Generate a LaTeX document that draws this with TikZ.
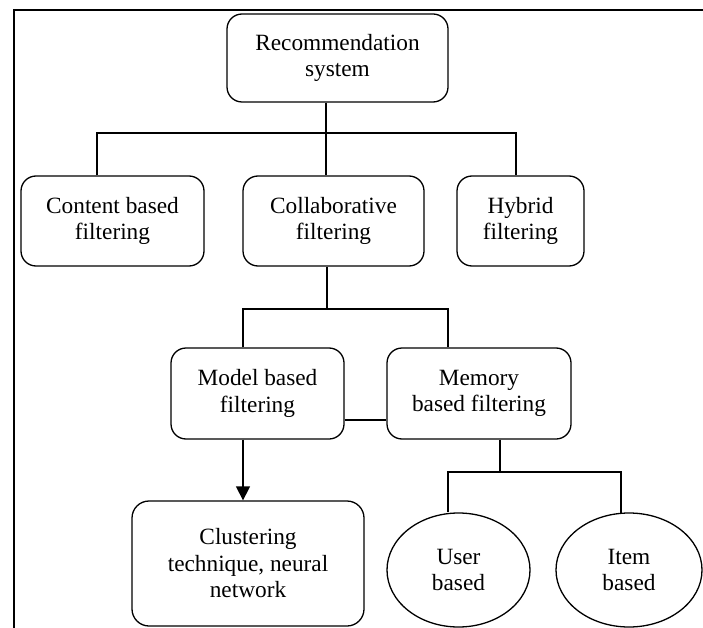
\documentclass[tikz,border=0pt]{standalone}
\usepackage{fontspec}
\setmainfont{Liberation Serif}
\usetikzlibrary{shapes.geometric,arrows.meta}
\tikzset{
  txt/.style={font=\fontsize{23.3}{26.5}\selectfont, align=center, inner sep=0pt},
  rbox/.style={txt, draw, line width=1.3pt, rounded corners=15pt, rectangle},
  ebox/.style={txt, draw, line width=1.3pt, ellipse},
  conn/.style={line width=1.3pt},
  frameline/.style={line width=1.6pt}
}
\begin{document}
\begin{tikzpicture}[x=1pt,y=-1pt]
\useasboundingbox (0,0) rectangle (703,628);
% frame (top and left edges)
\coordinate (ftl) at (14,10);
\coordinate (ftr) at (705,10);
\coordinate (fbl) at (14,630);
\draw[frameline] (fbl) -- (ftl) -- (ftr);

% nodes
\node[rbox, minimum width=221pt, minimum height=88pt] (rec) at (337.5,58) {Recommendation\\system};
\node[rbox, minimum width=183pt, minimum height=90pt] (content) at (112.5,221) {Content based\\filtering};
\node[rbox, minimum width=181pt, minimum height=90pt] (collab) at (333.5,221) {Collaborative\\filtering};
\node[rbox, minimum width=127pt, minimum height=90pt] (hybrid) at (520.5,221) {Hybrid\\filtering};
\node[rbox, minimum width=173pt, minimum height=91pt] (model) at (257.5,393.5) {Model based\\filtering};
\node[rbox, minimum width=184pt, minimum height=91pt] (memory) at (479,393.5) {Memory\\based filtering};
\node[rbox, rounded corners=17pt, minimum width=232pt, minimum height=125pt] (clust) at (248,563.5) {Clustering\\technique, neural\\network};
\node[ebox, minimum width=143pt, minimum height=114pt] (user) at (458.5,570) {User\\based};
\node[ebox, minimum width=146pt, minimum height=114pt] (item) at (629,570) {Item\\based};

% level 1 connectors
\coordinate (j1) at (326,133);
\coordinate (jc) at (97,133);
\coordinate (jh) at (516,133);
\draw[conn] (rec.south -| j1) -- (collab.north -| j1);
\draw[conn] (content.north -| jc) -- (jc) -- (jh) -- (hybrid.north -| jh);

% level 2 connectors
\coordinate (j2) at (327,309);
\coordinate (jm) at (243,309);
\coordinate (jme) at (448,309);
\draw[conn] (collab.south -| j2) -- (j2);
\draw[conn] (model.north -| jm) -- (jm) -- (jme) -- (memory.north -| jme);
\coordinate (mm) at (0,420);
\draw[conn] (model.east |- mm) -- (memory.west |- mm);
\draw[conn, -{Triangle[width=14pt,length=14pt]}] (model.south -| jm) -- (clust.north -| jm);

% level 3 connectors
\coordinate (j3) at (500,472);
\coordinate (ju) at (448,472);
\coordinate (ji) at (621,472);
\coordinate (ie) at (621,513.5);
\draw[conn] (memory.south -| j3) -- (j3);
\draw[conn] (user.north -| ju) -- (ju) -- (ji) -- (ie);
\end{tikzpicture}
\end{document}
